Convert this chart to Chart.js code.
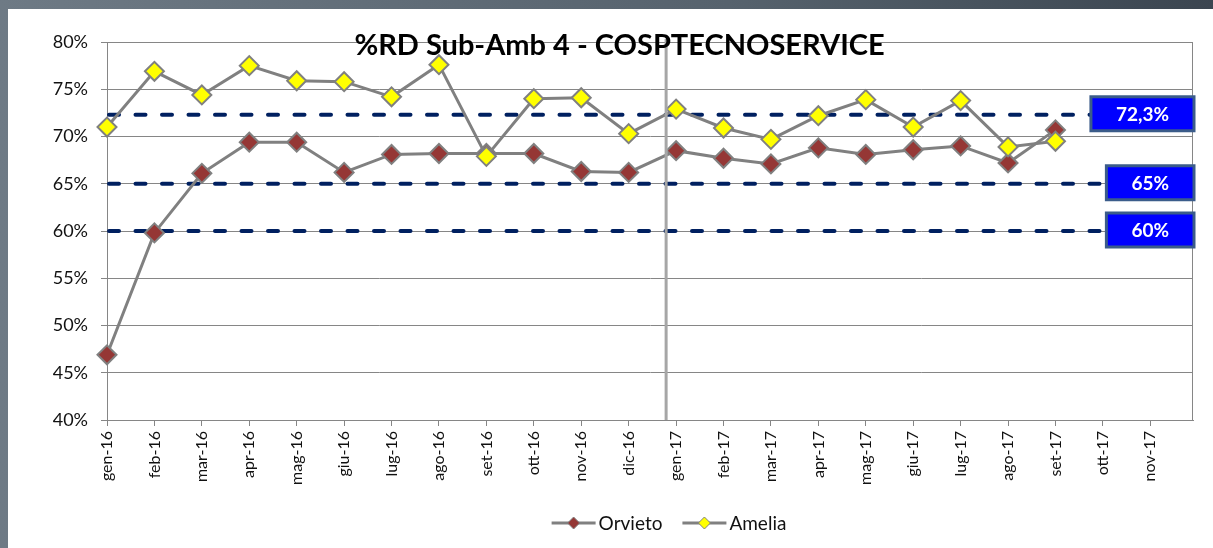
<!DOCTYPE html>
<html>
<head>
<meta charset="utf-8">
<script src="https://cdn.jsdelivr.net/npm/chart.js@4.4.1/dist/chart.umd.min.js"></script>
<style>
  html, body { margin: 0; padding: 0; }
  body { width: 1213px; height: 548px; overflow: hidden; position: relative;
         background: linear-gradient(90deg, #6e7a85 0%, #56626d 60%, #3b4550 100%); }
  #frame { position: absolute; left: 8px; top: 9px; width: 1205px; height: 539px; background: #fff; }
</style>
</head>
<body>
<div id="frame"><canvas id="rdChart"></canvas></div>
<script>
// ── data ────────────────────────────────────────────────
const months = ['gen-16','feb-16','mar-16','apr-16','mag-16','giu-16','lug-16','ago-16','set-16','ott-16','nov-16','dic-16',
                'gen-17','feb-17','mar-17','apr-17','mag-17','giu-17','lug-17','ago-17','set-17','ott-17','nov-17'];
const orvieto = [46.9, 59.8, 66.1, 69.4, 69.4, 66.2, 68.1, 68.2, 68.2, 68.2, 66.3, 66.2,
                 68.5, 67.7, 67.1, 68.8, 68.1, 68.6, 69.0, 67.2, 70.7];
const amelia  = [71.0, 76.9, 74.4, 77.5, 75.9, 75.8, 74.2, 77.6, 67.9, 74.0, 74.1, 70.3,
                 72.9, 70.9, 69.7, 72.2, 73.9, 71.0, 73.8, 68.9, 69.5];
const targets      = [72.3, 65, 60];
const targetLabels = ['72,3%', '65%', '60%'];
const titleText = '%RD Sub-Amb 4 - COSPTECNOSERVICE';

const FONT = 'Lato, "Open Sans", sans-serif';
const GRID = '#868686';
const LINE = '#808080';
const X_END = 22.9;        // axis runs a little past nov-17 (date axis in the original)
const YEAR_SPLIT = 11.79;  // grey separator between dic-16 and gen-17

// ── drawing helpers ─────────────────────────────────────
function diamond(ctx, x, y, r, fill, stroke, lw) {
  ctx.beginPath();
  ctx.moveTo(x, y - r); ctx.lineTo(x + r, y); ctx.lineTo(x, y + r); ctx.lineTo(x - r, y);
  ctx.closePath();
  ctx.fillStyle = fill; ctx.fill();
  ctx.lineWidth = lw; ctx.strokeStyle = stroke; ctx.stroke();
}

const overlay = {
  id: 'overlay',
  beforeDatasetsDraw(chart) {
    const { ctx, chartArea: a, scales: { y } } = chart;
    ctx.save();
    // plot border
    ctx.strokeStyle = GRID; ctx.lineWidth = 1;
    ctx.strokeRect(a.left + 0.5, a.top + 0.5, a.right - a.left - 1, a.bottom - a.top);
    // dashed target lines
    ctx.font = 'bold 19px ' + FONT;
    targets.forEach((t, i) => {
      const yy = y.getPixelForValue(t);
      const boxW = ctx.measureText(targetLabels[i]).width + 50;
      ctx.beginPath();
      ctx.setLineDash([10, 16.5]);
      ctx.lineCap = 'round';
      ctx.lineWidth = 4;
      ctx.strokeStyle = '#002060';
      ctx.moveTo(a.left + 2, yy);
      ctx.lineTo(a.right - boxW + 2, yy);
      ctx.stroke();
    });
    ctx.restore();
  },
  afterDatasetsDraw(chart) {
    const { ctx, chartArea: a, scales: { x, y } } = chart;
    ctx.save();
    // target boxes
    ctx.font = 'bold 19px ' + FONT;
    ctx.textAlign = 'center'; ctx.textBaseline = 'middle';
    targets.forEach((t, i) => {
      const yy = y.getPixelForValue(t) - 1;
      const boxW = ctx.measureText(targetLabels[i]).width + 50;
      const bx = a.right - boxW + 1;
      ctx.fillStyle = '#0000ff';
      ctx.fillRect(bx, yy - 17, boxW, 34);
      ctx.lineWidth = 3; ctx.strokeStyle = '#3b5c8a';
      ctx.strokeRect(bx, yy - 17, boxW, 34);
      ctx.fillStyle = '#fff';
      ctx.fillText(targetLabels[i], bx + boxW / 2, yy + 1);
    });
    // year separator
    const sx = x.getPixelForValue(YEAR_SPLIT);
    ctx.beginPath();
    ctx.strokeStyle = '#a6a6a6'; ctx.lineWidth = 3;
    ctx.moveTo(sx, a.top - 3); ctx.lineTo(sx, a.bottom);
    ctx.stroke();
    // title
    ctx.font = 'bold 29px ' + FONT;
    ctx.fillStyle = '#000';
    ctx.textAlign = 'center'; ctx.textBaseline = 'alphabetic';
    ctx.fillText(titleText, 611.5, a.top + 13);
    // legend
    ctx.font = '19px ' + FONT;
    ctx.textAlign = 'left'; ctx.textBaseline = 'middle';
    const items = chart.data.datasets.map(d => ({ label: d.label, fill: d.pointBackgroundColor }));
    const symW = 44, gap = 3, sep = 20;
    const widths = items.map(it => symW + gap + ctx.measureText(it.label).width);
    const total = widths.reduce((s, w) => s + w, 0) + sep * (items.length - 1);
    let lx = 661 - total / 2;
    const ly = 514;
    items.forEach((it, i) => {
      ctx.beginPath();
      ctx.strokeStyle = LINE; ctx.lineWidth = 3;
      ctx.moveTo(lx, ly); ctx.lineTo(lx + symW, ly); ctx.stroke();
      diamond(ctx, lx + symW / 2, ly, 6, it.fill, LINE, 1);
      ctx.fillStyle = '#111';
      ctx.fillText(it.label, lx + symW + gap, ly + 1);
      lx += widths[i] + sep;
    });
    ctx.restore();
  }
};

function seriesDataset(label, values, fill, order) {
  return {
    label, order,
    data: values.map((v, i) => ({ x: i, y: v })),
    borderColor: LINE, borderWidth: 3,
    pointStyle: 'rectRot', pointRadius: 9.5, pointHoverRadius: 9.5,
    pointBackgroundColor: fill, pointBorderColor: LINE, pointBorderWidth: 2,
    tension: 0, fill: false, clip: false
  };
}

new Chart(document.getElementById('rdChart').getContext('2d'), {
  type: 'line',
  data: {
    datasets: [
      seriesDataset('Orvieto', orvieto, '#953735', 1),
      seriesDataset('Amelia', amelia, '#ffff00', 0)
    ]
  },
  options: {
    responsive: true, maintainAspectRatio: false, animation: false,
    layout: { padding: { top: 33, right: 20, left: 0, bottom: 0 } },
    plugins: { legend: { display: false }, tooltip: { enabled: false }, title: { display: false } },
    scales: {
      x: {
        type: 'linear', min: 0, max: X_END,
        grid: { drawOnChartArea: false, drawTicks: true, tickLength: 6, color: GRID },
        border: { color: GRID },
        ticks: {
          stepSize: 1, includeBounds: false, autoSkip: false, minRotation: 90, maxRotation: 90, padding: 5,
          color: '#111', font: { family: FONT, size: 16 },
          callback: v => months[v] ?? ''
        },
        afterFit: s => { s.height = 128; }
      },
      y: {
        min: 40, max: 80,
        grid: { color: GRID, tickLength: 6 },
        border: { color: GRID },
        ticks: { stepSize: 5, padding: 13, color: '#111', font: { family: FONT, size: 18 }, callback: v => v + '%' },
        afterFit: s => { s.width = 99; }
      }
    }
  },
  plugins: [overlay]
});
</script>
</body>
</html>
